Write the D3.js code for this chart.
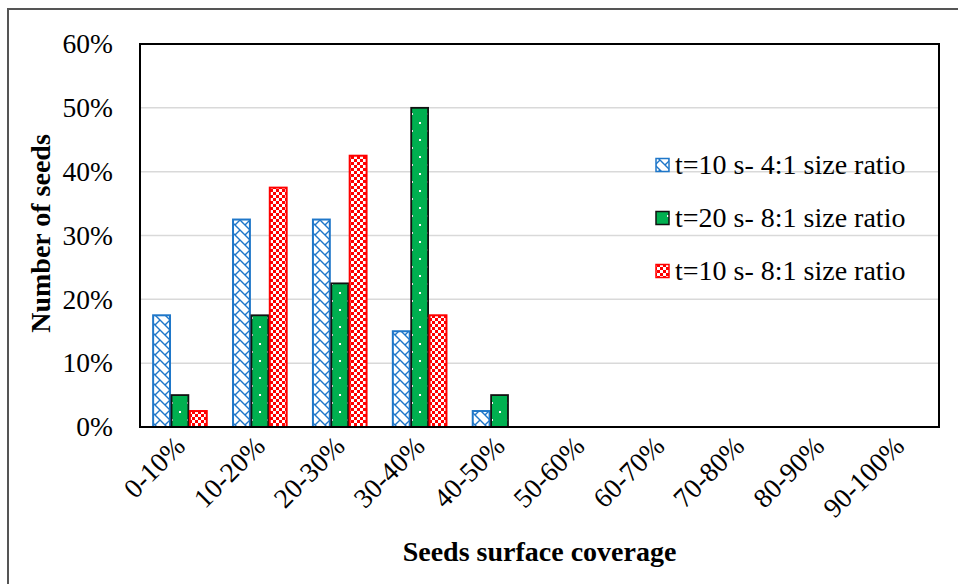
<!DOCTYPE html>
<html><head><meta charset="utf-8">
<script src="https://cdn.jsdelivr.net/npm/d3@7"></script>
<style>html,body{margin:0;padding:0;background:#fff;}svg{display:block;}
text{font-family:'Liberation Serif','Times New Roman',Times,serif;}</style>
</head><body>
<script>
const categories = ["0-10%","10-20%","20-30%","30-40%","40-50%","50-60%","60-70%","70-80%","80-90%","90-100%"];
const seriesNames = ["t=10 s- 4:1 size ratio","t=20 s- 8:1 size ratio","t=10 s- 8:1 size ratio"];
const seriesA = [17.5,32.5,32.5,15,2.5,0,0,0,0,0];
const seriesB = [5,17.5,22.5,50,5,0,0,0,0,0];
const seriesC = [2.5,37.5,42.5,17.5,0,0,0,0,0,0];
const yTicks = [0,10,20,30,40,50,60];
const series = [seriesA, seriesB, seriesC];

const W = 958, H = 584;
const M = {left:140, right:939, top:44, bottom:427};
const FF = "'Liberation Serif','Times New Roman',Times,serif";
const svg = d3.select("body").append("svg").attr("width",W).attr("height",H);
const defs = svg.append("defs");

// patterns
const pA = defs.append("pattern").attr("id","patA").attr("patternUnits","userSpaceOnUse").attr("width",10).attr("height",10);
pA.append("rect").attr("width",10).attr("height",10).attr("fill","#fff");
pA.append("path").attr("d","M0,0 L10,10 M5,5 L10,0 M-1,9 L1,11").attr("stroke","#1f77c9").attr("stroke-width",1.4).attr("fill","none");
const pB = defs.append("pattern").attr("id","patB").attr("patternUnits","userSpaceOnUse").attr("width",16).attr("height",17);
pB.append("rect").attr("width",16).attr("height",17).attr("fill","#00b050");
pB.append("rect").attr("x",3).attr("y",3).attr("width",2).attr("height",2).attr("fill","#fff");
pB.append("rect").attr("x",11).attr("y",11).attr("width",2).attr("height",2).attr("fill","#fff");
const pC = defs.append("pattern").attr("id","patC").attr("patternUnits","userSpaceOnUse").attr("width",6).attr("height",6);
pC.append("rect").attr("width",6).attr("height",6).attr("fill","#ff0000");
pC.append("rect").attr("width",3).attr("height",3).attr("fill","#fff");
pC.append("rect").attr("x",3).attr("y",3).attr("width",3).attr("height",3).attr("fill","#fff");

const fills = ["url(#patA)","url(#patB)","url(#patC)"];
const strokes = ["#1f77c9","#111","#ff0000"];

// outer border (left + top)
svg.append("path").attr("d",`M8,${H} L8,9 L${W},9`).attr("fill","none").attr("stroke","#555").attr("stroke-width",2);

const x = d3.scaleBand().domain(categories).range([M.left,M.right]).paddingInner(0.31).paddingOuter(0.155);
const xs = d3.scaleBand().domain([0,1,2]).range([0,x.bandwidth()]);
const y = d3.scaleLinear().domain([0,60]).range([M.bottom,M.top]);

// gridlines
svg.append("g").selectAll("line").data(yTicks.filter(t=>t>0&&t<60)).join("line")
  .attr("x1",M.left).attr("x2",M.right).attr("y1",d=>y(d)).attr("y2",d=>y(d))
  .attr("stroke","#d9d9d9").attr("stroke-width",1.5);

// y axis labels
const yAxis = d3.axisLeft(y).tickValues(yTicks).tickFormat(d=>d+"%").tickSize(0).tickPadding(27);
const gy = svg.append("g").attr("transform",`translate(${M.left},0)`).call(yAxis);
gy.attr("font-family",FF);
gy.select(".domain").remove();
gy.selectAll("text").attr("font-size",27.5).attr("fill","#000");

// bars
series.forEach((vals,si)=>{
  svg.append("g").selectAll("rect").data(vals.map((v,i)=>({c:categories[i],v}))).join("rect")
    .filter(d=>d.v>0)
    .attr("x",d=>x(d.c)+xs(si)+0.75).attr("width",xs.bandwidth()-1.5)
    .attr("y",d=>y(d.v)).attr("height",d=>y(0)-y(d.v))
    .attr("fill",fills[si]).attr("stroke",strokes[si]).attr("stroke-width",si===1?1.8:2);
});

// plot frame
svg.append("rect").attr("x",M.left).attr("y",M.top).attr("width",M.right-M.left).attr("height",M.bottom-M.top)
  .attr("fill","none").attr("stroke","#000").attr("stroke-width",2);

// x axis labels
const xAxis = d3.axisBottom(x).tickSize(0).tickPadding(0);
const gx = svg.append("g").attr("transform",`translate(0,${M.bottom})`).call(xAxis);
gx.attr("font-family",FF);
gx.select(".domain").remove();
gx.selectAll("text").attr("font-size",27.5).attr("fill","#000")
  .attr("text-anchor","end").attr("dy","0.35em")
  .attr("transform","translate(0,14) rotate(-45)");

// axis titles
svg.append("text").attr("x",(M.left+M.right)/2).attr("y",561).attr("text-anchor","middle")
  .attr("font-weight","bold").attr("font-size",28).text("Seeds surface coverage");
svg.append("text").attr("transform",`translate(50,${(M.top+M.bottom)/2-2}) rotate(-90)`).attr("text-anchor","middle")
  .attr("font-weight","bold").attr("font-size",28).text("Number of seeds");

// legend
const lg = svg.append("g");
seriesNames.forEach((n,i)=>{
  const cy = 165 + i*53;
  lg.append("rect").attr("x",656).attr("y",cy-6.5).attr("width",13).attr("height",13)
    .attr("fill",fills[i]).attr("stroke",strokes[i]).attr("stroke-width",1.5);
  lg.append("text").attr("x",675).attr("y",cy+8.5).attr("font-size",28).text(n);
});
</script>
</body></html>
